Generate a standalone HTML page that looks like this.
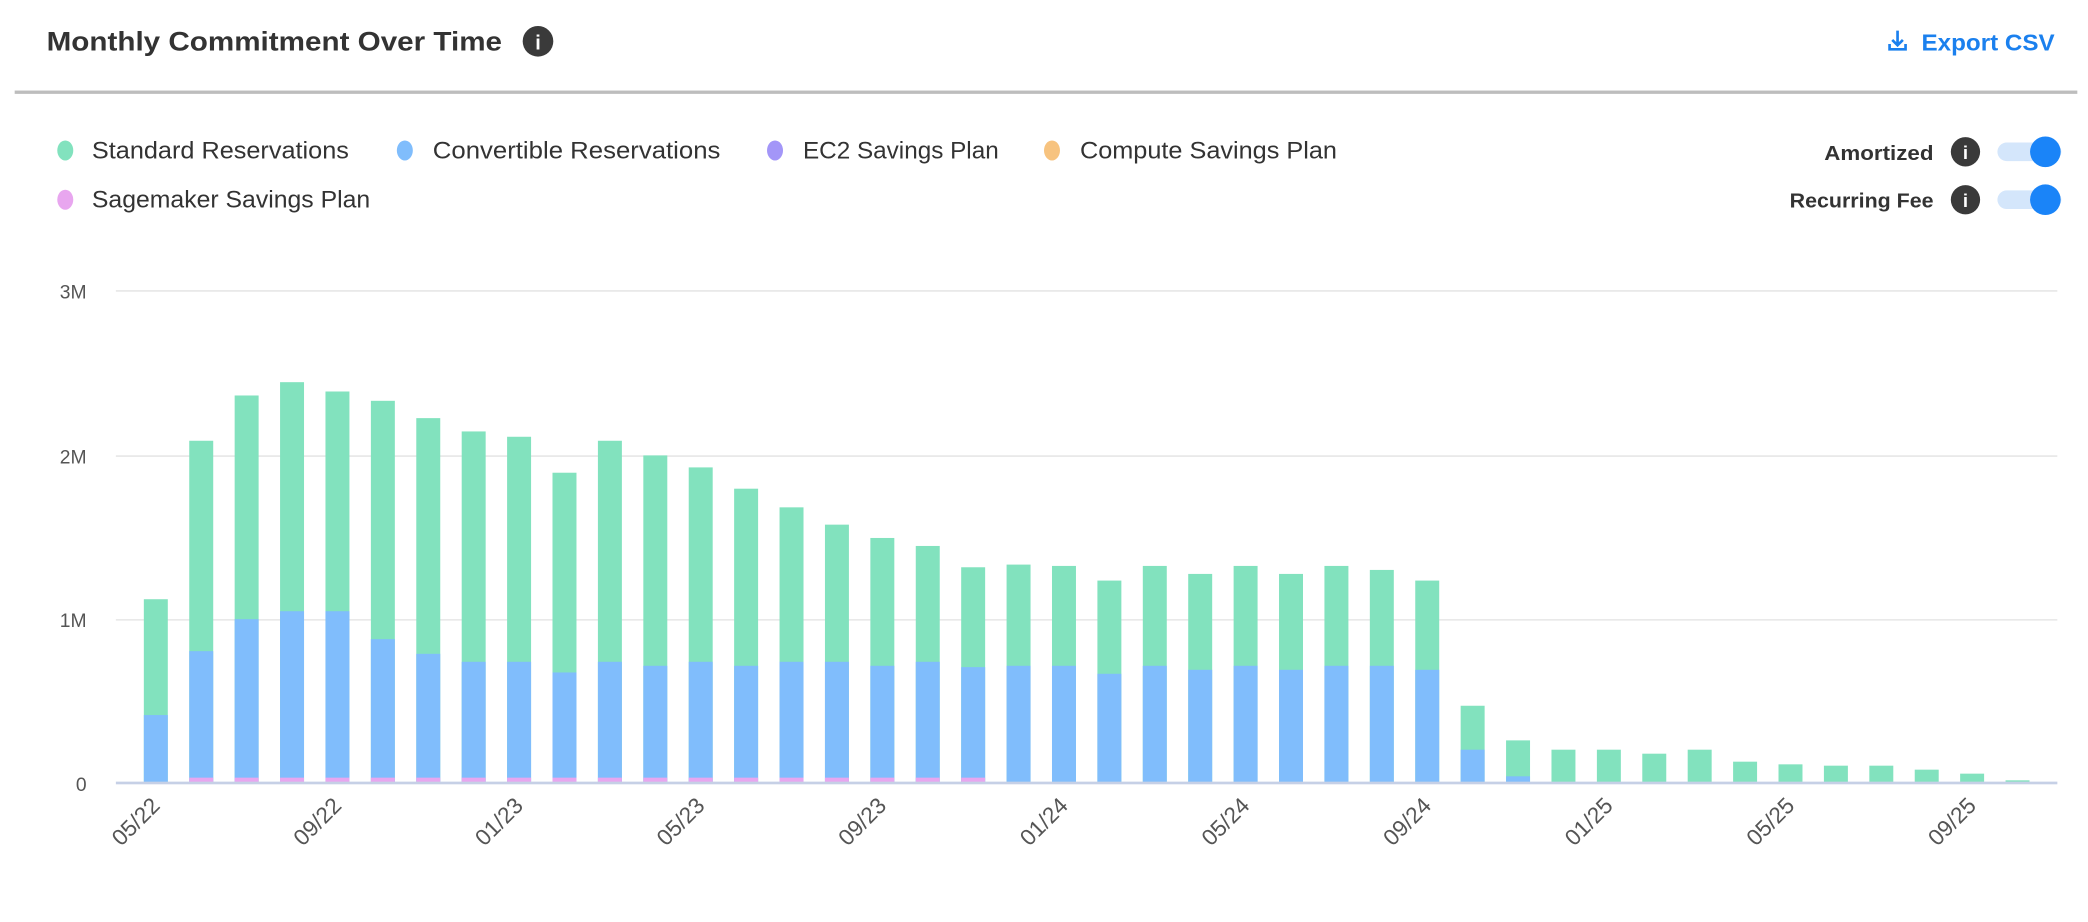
<!DOCTYPE html>
<html><head><meta charset="utf-8"><style>
html,body{margin:0;padding:0;background:#fff;width:2088px;height:922px;overflow:hidden}
svg{display:block}
text{font-family:"Liberation Sans",sans-serif}
</style></head><body>
<svg width="2088" height="922" viewBox="0 0 1568 692.4" xmlns="http://www.w3.org/2000/svg">
<text x="35" y="38" font-size="20" font-weight="bold" fill="#333" textLength="342" lengthAdjust="spacingAndGlyphs">Monthly Commitment Over Time</text>
<circle cx="404" cy="31" r="11.5" fill="#3a3a3a"/><text x="404" y="37" font-size="15" font-weight="bold" fill="#fff" text-anchor="middle">i</text>
<g stroke="#1b80ee" stroke-width="2" fill="none"><path d="M1425 23v11M1421 30l4 4 4-4M1419 33v4h12v-4"/></g>
<text x="1443" y="38" font-size="17.5" font-weight="bold" fill="#1b80ee" textLength="100" lengthAdjust="spacingAndGlyphs">Export CSV</text>
<rect x="11" y="68" width="1549" height="2.5" fill="#bdbdbd"/>
<g font-size="18" fill="#333">
<ellipse cx="49" cy="113" rx="6" ry="7.5" fill="#82e2be"/><text x="69" y="119" textLength="193" lengthAdjust="spacingAndGlyphs">Standard Reservations</text>
<ellipse cx="304" cy="113" rx="6" ry="7.5" fill="#80bdfc"/><text x="325" y="119" textLength="216" lengthAdjust="spacingAndGlyphs">Convertible Reservations</text>
<ellipse cx="582" cy="113" rx="6" ry="7.5" fill="#a396f8"/><text x="603" y="119" textLength="147" lengthAdjust="spacingAndGlyphs">EC2 Savings Plan</text>
<ellipse cx="790" cy="113" rx="6" ry="7.5" fill="#f7c37f"/><text x="811" y="119" textLength="193" lengthAdjust="spacingAndGlyphs">Compute Savings Plan</text>
<ellipse cx="49" cy="150" rx="6" ry="7.5" fill="#e8a6ef"/><text x="69" y="156" textLength="209" lengthAdjust="spacingAndGlyphs">Sagemaker Savings Plan</text>
</g>
<g font-size="15" font-weight="bold" fill="#333">
<text x="1370" y="120" textLength="82" lengthAdjust="spacingAndGlyphs">Amortized</text><text x="1344" y="156" textLength="108" lengthAdjust="spacingAndGlyphs">Recurring Fee</text></g>
<circle cx="1476" cy="114" r="11" fill="#3a3a3a"/><text x="1476" y="119.5" font-size="14" font-weight="bold" fill="#fff" text-anchor="middle">i</text>
<circle cx="1476" cy="150" r="11" fill="#3a3a3a"/><text x="1476" y="155.5" font-size="14" font-weight="bold" fill="#fff" text-anchor="middle">i</text>
<rect x="1500" y="107" width="48" height="14" rx="7" fill="#d4e6fb"/><circle cx="1536" cy="114" r="11.5" fill="#1a84f8"/>
<rect x="1500" y="143" width="48" height="14" rx="7" fill="#d4e6fb"/><circle cx="1536" cy="150" r="11.5" fill="#1a84f8"/>
<g stroke="#e2e2e2" stroke-width="1"><path d="M87 218.5H1545M87 342.5H1545M87 465.5H1545"/></g>
<g font-size="14.5" fill="#555" text-anchor="end"><text x="65" y="224">3M</text><text x="65" y="348">2M</text><text x="65" y="471">1M</text><text x="65" y="594">0</text></g>
<g fill="#82e2be">
<rect x="108" y="450" width="18" height="138"/>
<rect x="142.1" y="331" width="18" height="257"/>
<rect x="176.2" y="297" width="18" height="291"/>
<rect x="210.3" y="287" width="18" height="301"/>
<rect x="244.4" y="294" width="18" height="294"/>
<rect x="278.5" y="301" width="18" height="287"/>
<rect x="312.6" y="314" width="18" height="274"/>
<rect x="346.7" y="324" width="18" height="264"/>
<rect x="380.8" y="328" width="18" height="260"/>
<rect x="414.9" y="355" width="18" height="233"/>
<rect x="449" y="331" width="18" height="257"/>
<rect x="483.1" y="342" width="18" height="246"/>
<rect x="517.2" y="351" width="18" height="237"/>
<rect x="551.3" y="367" width="18" height="221"/>
<rect x="585.4" y="381" width="18" height="207"/>
<rect x="619.5" y="394" width="18" height="194"/>
<rect x="653.6" y="404" width="18" height="184"/>
<rect x="687.7" y="410" width="18" height="178"/>
<rect x="721.8" y="426" width="18" height="162"/>
<rect x="755.9" y="424" width="18" height="164"/>
<rect x="790" y="425" width="18" height="163"/>
<rect x="824.1" y="436" width="18" height="152"/>
<rect x="858.2" y="425" width="18" height="163"/>
<rect x="892.3" y="431" width="18" height="157"/>
<rect x="926.4" y="425" width="18" height="163"/>
<rect x="960.5" y="431" width="18" height="157"/>
<rect x="994.6" y="425" width="18" height="163"/>
<rect x="1028.7" y="428" width="18" height="160"/>
<rect x="1062.8" y="436" width="18" height="152"/>
<rect x="1096.9" y="530" width="18" height="58"/>
<rect x="1131" y="556" width="18" height="32"/>
<rect x="1165.1" y="563" width="18" height="25"/>
<rect x="1199.2" y="563" width="18" height="25"/>
<rect x="1233.3" y="566" width="18" height="22"/>
<rect x="1267.4" y="563" width="18" height="25"/>
<rect x="1301.5" y="572" width="18" height="16"/>
<rect x="1335.6" y="574" width="18" height="14"/>
<rect x="1369.7" y="575" width="18" height="13"/>
<rect x="1403.8" y="575" width="18" height="13"/>
<rect x="1437.9" y="578" width="18" height="10"/>
<rect x="1472" y="581" width="18" height="7"/>
<rect x="1506.1" y="586" width="18" height="2"/>
</g>
<g fill="#80bdfc">
<rect x="108" y="537" width="18" height="51"/>
<rect x="142.1" y="489" width="18" height="99"/>
<rect x="176.2" y="465" width="18" height="123"/>
<rect x="210.3" y="459" width="18" height="129"/>
<rect x="244.4" y="459" width="18" height="129"/>
<rect x="278.5" y="480" width="18" height="108"/>
<rect x="312.6" y="491" width="18" height="97"/>
<rect x="346.7" y="497" width="18" height="91"/>
<rect x="380.8" y="497" width="18" height="91"/>
<rect x="414.9" y="505" width="18" height="83"/>
<rect x="449" y="497" width="18" height="91"/>
<rect x="483.1" y="500" width="18" height="88"/>
<rect x="517.2" y="497" width="18" height="91"/>
<rect x="551.3" y="500" width="18" height="88"/>
<rect x="585.4" y="497" width="18" height="91"/>
<rect x="619.5" y="497" width="18" height="91"/>
<rect x="653.6" y="500" width="18" height="88"/>
<rect x="687.7" y="497" width="18" height="91"/>
<rect x="721.8" y="501" width="18" height="87"/>
<rect x="755.9" y="500" width="18" height="88"/>
<rect x="790" y="500" width="18" height="88"/>
<rect x="824.1" y="506" width="18" height="82"/>
<rect x="858.2" y="500" width="18" height="88"/>
<rect x="892.3" y="503" width="18" height="85"/>
<rect x="926.4" y="500" width="18" height="88"/>
<rect x="960.5" y="503" width="18" height="85"/>
<rect x="994.6" y="500" width="18" height="88"/>
<rect x="1028.7" y="500" width="18" height="88"/>
<rect x="1062.8" y="503" width="18" height="85"/>
<rect x="1096.9" y="563" width="18" height="25"/>
<rect x="1131" y="583" width="18" height="5"/>
</g>
<g fill="#e8a6ef">
<rect x="142.1" y="584" width="18" height="4"/><rect x="176.2" y="584" width="18" height="4"/><rect x="210.3" y="584" width="18" height="4"/><rect x="244.4" y="584" width="18" height="4"/><rect x="278.5" y="584" width="18" height="4"/><rect x="312.6" y="584" width="18" height="4"/><rect x="346.7" y="584" width="18" height="4"/><rect x="380.8" y="584" width="18" height="4"/><rect x="414.9" y="584" width="18" height="4"/><rect x="449" y="584" width="18" height="4"/><rect x="483.1" y="584" width="18" height="4"/><rect x="517.2" y="584" width="18" height="4"/><rect x="551.3" y="584" width="18" height="4"/><rect x="585.4" y="584" width="18" height="4"/><rect x="619.5" y="584" width="18" height="4"/><rect x="653.6" y="584" width="18" height="4"/><rect x="687.7" y="584" width="18" height="4"/><rect x="721.8" y="584" width="18" height="4"/>
</g>
<rect x="87" y="587" width="1458" height="2" fill="#c6d0e6"/>
<g font-size="17" fill="#555" text-anchor="end">
<text transform="translate(121,606) rotate(-45)">05/22</text>
<text transform="translate(257.4,606) rotate(-45)">09/22</text>
<text transform="translate(393.8,606) rotate(-45)">01/23</text>
<text transform="translate(530.2,606) rotate(-45)">05/23</text>
<text transform="translate(666.6,606) rotate(-45)">09/23</text>
<text transform="translate(803,606) rotate(-45)">01/24</text>
<text transform="translate(939.4,606) rotate(-45)">05/24</text>
<text transform="translate(1075.8,606) rotate(-45)">09/24</text>
<text transform="translate(1212.2,606) rotate(-45)">01/25</text>
<text transform="translate(1348.6,606) rotate(-45)">05/25</text>
<text transform="translate(1485,606) rotate(-45)">09/25</text>
</g>
</svg>
</body></html>
